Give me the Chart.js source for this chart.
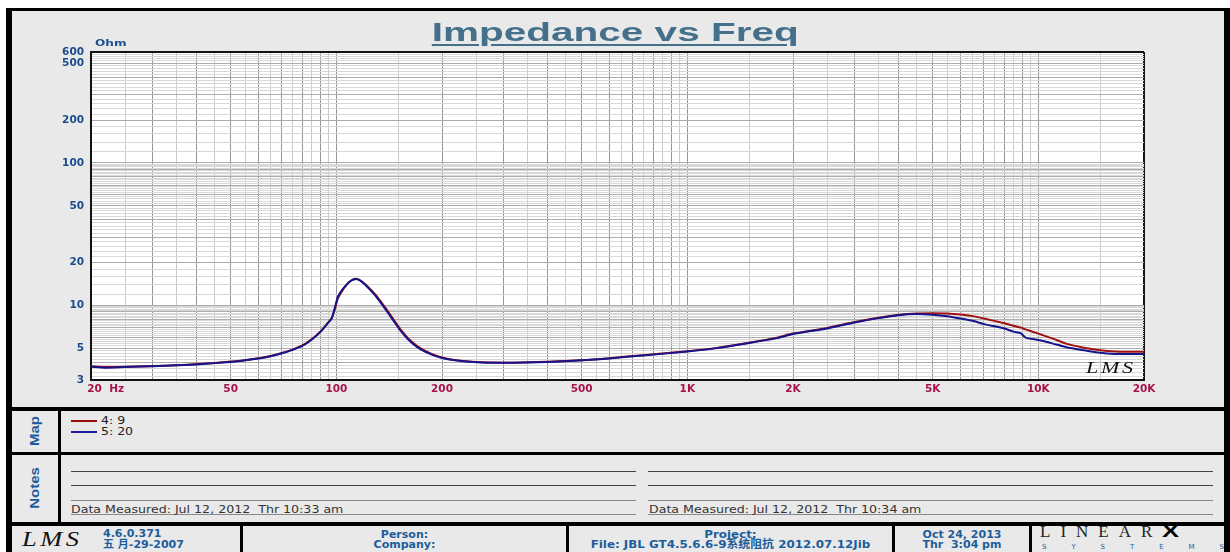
<!DOCTYPE html>
<html>
<head>
<meta charset="utf-8">
<title>Impedance vs Freq</title>
<script src="https://cdn.jsdelivr.net/npm/chart.js@4.4.0/dist/chart.umd.min.js"></script>
<style>
  body { margin: 0; width: 1230px; height: 552px; background: #fff; position: relative; overflow: hidden; font-family: "DejaVu Sans", sans-serif; }
  .abs { position: absolute; }
  .bar { position: absolute; background: #000; }
  #frame { position: absolute; left: 6px; top: 8px; width: 1212px; height: 544px; border-top: 3px solid #000; border-left: 6px solid #000; border-right: 6px solid #000; background: #e9e9e9; }
  #plotWrap { position: absolute; left: 12px; top: 11px; width: 1212px; height: 396px; }
  #title { position: absolute; left: 0; top: 18px; width: 1230px; text-align: center; line-height: 25px; }
  #title span { display: inline-block; font: bold 25px "Liberation Sans", Arial, sans-serif; color: #44708c; text-decoration: underline; text-decoration-thickness: 2px; text-underline-offset: 3px; transform: scaleX(1.62); }
  #ohm { left: 95px; top: 38px; font: bold 9px "DejaVu Sans", sans-serif; color: #1d4f8f; transform: scaleX(1.35); transform-origin: left center; }
  #sig { left: 1086px; top: 358px; font: italic 17px "Liberation Serif", serif; color: #111; letter-spacing: 2px; transform: scaleX(1.3); transform-origin: left center; }
  .side { width: 46px; text-align: center; color: #1d5d9b; font: bold 12px "Liberation Sans", Arial, sans-serif; }
  .side span { display: inline-block; transform: rotate(-90deg) scaleX(1.25); }
  .leg { font: 10px "DejaVu Sans", sans-serif; color: #222; line-height: 10px; transform: scaleX(1.25); transform-origin: left center; }
  .legline { position: absolute; width: 26px; height: 2px; }
  .nline { position: absolute; height: 1px; width: 565px; }
  .meas { font: 10px "DejaVu Sans", sans-serif; color: #333; line-height: 10px; white-space: nowrap; transform: scaleX(1.26); transform-origin: left center; }
  .foot { font: bold 11px "DejaVu Sans", "Noto Sans CJK SC", sans-serif; color: #1d5d9b; line-height: 10px; text-align: center; white-space: nowrap; }
  #sys { left: 1042px; top: 544px; width: 182px; display: flex; justify-content: space-between; font: 7px "DejaVu Sans", sans-serif; color: #1d5d9b; line-height: 7px; }
</style>
</head>
<body>
<div id="frame"></div>

<div id="plotWrap"><canvas id="impChart" width="1212" height="396"></canvas></div>
<div id="title"><span>Impedance vs Freq</span></div>
<div id="ohm" class="abs">Ohm</div>
<div id="sig" class="abs">LMS</div>

<!-- separators -->
<div class="bar" style="left:12px;top:407px;width:1212px;height:4px"></div>
<div class="bar" style="left:12px;top:452px;width:1212px;height:3px"></div>
<div class="bar" style="left:12px;top:522px;width:1212px;height:4px"></div>
<div class="bar" style="left:58px;top:411px;width:3px;height:111px"></div>
<div class="bar" style="left:240px;top:526px;width:3px;height:26px"></div>
<div class="bar" style="left:566px;top:526px;width:3px;height:26px"></div>
<div class="bar" style="left:892px;top:526px;width:3px;height:26px"></div>
<div class="bar" style="left:1029px;top:526px;width:3px;height:26px"></div>

<!-- map box -->
<div class="abs side" style="left:12px;top:424px"><span>Map</span></div>
<div class="legline" style="left:71px;top:420px;background:#9b0d0d"></div>
<div class="abs leg" style="left:101px;top:416px">4: 9</div>
<div class="legline" style="left:71px;top:431px;background:#1a1a96"></div>
<div class="abs leg" style="left:101px;top:427px">5: 20</div>

<!-- notes box -->
<div class="abs side" style="left:12px;top:481px"><span>Notes</span></div>
<div class="nline" style="left:71px;top:471px;background:#444"></div>
<div class="nline" style="left:71px;top:485px;background:#444"></div>
<div class="nline" style="left:71px;top:500px;background:#888"></div>
<div class="nline" style="left:71px;top:514px;background:#888"></div>
<div class="abs meas" style="left:71px;top:505px">Data Measured: Jul 12, 2012&nbsp; Thr 10:33 am</div>
<div class="nline" style="left:648px;top:471px;background:#444"></div>
<div class="nline" style="left:648px;top:485px;background:#444"></div>
<div class="nline" style="left:648px;top:500px;background:#888"></div>
<div class="nline" style="left:648px;top:514px;background:#888"></div>
<div class="abs meas" style="left:649px;top:505px">Data Measured: Jul 12, 2012&nbsp; Thr 10:34 am</div>

<!-- footer -->
<div class="abs" style="left:22px;top:526px;font:italic 22px 'Liberation Serif',serif;letter-spacing:3px;color:#111;transform:scaleX(1.2);transform-origin:left center">LMS</div>
<div class="abs foot" style="left:103px;top:529px;text-align:left">4.6.0.371</div>
<div class="abs foot" style="left:103px;top:540px;text-align:left">五 月-29-2007</div>
<div class="abs foot" style="left:243px;top:530px;width:323px">Person:<br>Company:</div>
<div class="abs foot" style="left:569px;top:530px;width:323px"><span style="display:inline-block;transform:scaleX(1.08)">Project:<br>File: JBL GT4.5.6.6-9系统阻抗 2012.07.12Jib</span></div>
<div class="abs foot" style="left:895px;top:530px;width:134px">Oct 24, 2013<br>Thr&nbsp; 3:04 pm</div>
<div class="abs" style="left:1040px;top:522px;font:17px 'Liberation Serif',serif;letter-spacing:10px;color:#222;line-height:17px;white-space:nowrap">LINEAR<span style="font:900 17px 'Liberation Sans',Arial,sans-serif;letter-spacing:0;color:#000;display:inline-block;transform:scaleX(1.5);transform-origin:left bottom">X</span></div>
<div id="sys" class="abs"><span>S</span><span>Y</span><span>S</span><span>T</span><span>E</span><span>M</span><span>S</span></div>

<script>
// measured impedance
const freqHz = [20, 22, 25, 30, 35, 40, 45, 50, 55, 60,
  65, 70, 75, 80, 85, 90, 95, 97, 99, 101,
  104, 107, 110, 113, 116, 120, 125, 130, 136, 143,
  152, 160, 170, 180, 190, 200, 210, 230, 260, 300,
  350, 400, 500, 600, 700, 800, 1000, 1200, 1500, 1800,
  2000, 2500, 3000, 3500, 4000, 4500, 5000, 5500, 6000, 6500,
  7000, 8000, 8500, 8900, 9200, 10000, 11000, 12000, 13500, 15000,
  16500, 18000, 20000];

// 4: 9 (red)
const imp4_9 = [3.74, 3.70, 3.71, 3.76, 3.81, 3.88, 3.95, 4.04, 4.13, 4.26,
  4.42, 4.64, 4.90, 5.24, 5.80, 6.55, 7.65, 8.15, 9.4, 11.2,
  12.7, 14.0, 14.9, 15.4, 15.2, 14.3, 13.0, 11.7, 10.1, 8.5,
  6.85, 5.9, 5.2, 4.78, 4.5, 4.32, 4.2, 4.08, 4.0, 3.97,
  3.99, 4.03, 4.13, 4.27, 4.42, 4.54, 4.78, 5.02, 5.48, 5.95,
  6.35, 6.95, 7.65, 8.2, 8.62, 8.8, 8.82, 8.8, 8.65, 8.42,
  8.1, 7.5, 7.2, 7.0, 6.8, 6.35, 5.85, 5.4, 5.05, 4.85,
  4.75, 4.73, 4.73];

// 5: 20 (blue)
const imp5_20 = [3.72, 3.66, 3.70, 3.75, 3.80, 3.86, 3.94, 4.02, 4.12, 4.24,
  4.40, 4.62, 4.88, 5.20, 5.75, 6.50, 7.60, 8.10, 9.6, 11.5,
  12.9, 14.0, 14.9, 15.3, 15.1, 14.2, 12.8, 11.5, 9.9, 8.3,
  6.7, 5.8, 5.1, 4.7, 4.45, 4.28, 4.18, 4.06, 3.98, 3.96,
  3.98, 4.02, 4.12, 4.25, 4.40, 4.52, 4.75, 5.0, 5.45, 5.9,
  6.3, 6.9, 7.6, 8.15, 8.55, 8.7, 8.6, 8.4, 8.1, 7.8,
  7.4, 6.9, 6.55, 6.4, 5.95, 5.72, 5.4, 5.1, 4.85, 4.66,
  4.57, 4.56, 4.56];

// axis labels
const xTickValues = [20, 50, 100, 200, 500, 1000, 2000, 5000, 10000, 20000];
const xTickLabels = ['20  Hz', '50', '100', '200', '500', '1K', '2K', '5K', '10K', '20K'];
const yTickValues = [3, 5, 10, 20, 50, 100, 200, 500, 600];

const X_MIN = 20, X_MAX = 20000, Y_MIN = 3, Y_MAX = 600;

// grid: every half step per decade on x, every 0.2 step per decade on y
const xGrid = [];
[10, 100, 1000, 10000].forEach(d => {
  for (let k = 10; k < 100; k += 5) {
    const v = k * d / 10;
    if (v >= X_MIN && v <= X_MAX) xGrid.push(v);
  }
});
const yGrid = [];
[1, 10, 100].forEach(d => {
  for (let k = 10; k < 100; k += 2) {
    const v = k * d / 10;
    if (v >= Y_MIN && v <= Y_MAX) yGrid.push(v);
  }
});

function near(a, b) { return Math.abs(a - b) < 1e-6 * b; }
function isWhole(v) {
  const d = Math.pow(10, Math.floor(Math.log10(v) + 1e-9));
  const m = v / d;
  return Math.abs(m - Math.round(m)) < 1e-6;
}

const plotBg = {
  id: 'plotBg',
  beforeDraw(chart) {
    const { ctx, chartArea: a } = chart;
    ctx.save();
    ctx.fillStyle = '#ffffff';
    ctx.fillRect(a.left, a.top, a.right - a.left, a.bottom - a.top);
    ctx.restore();
  }
};

const tickFont = { family: 'DejaVu Sans', size: 10.5, weight: 'bold' };

new Chart(document.getElementById('impChart'), {
  type: 'line',
  data: {
    datasets: [{
      label: '5: 20',
      data: freqHz.map((f, i) => ({ x: f, y: imp5_20[i] })),
      borderColor: '#14148c',
      borderWidth: 2,
      pointRadius: 0,
      tension: 0.2,
      order: 1
    }, {
      label: '4: 9',
      data: freqHz.map((f, i) => ({ x: f, y: imp4_9[i] })),
      borderColor: '#a01010',
      borderWidth: 2,
      pointRadius: 0,
      tension: 0.2,
      order: 2
    }]
  },
  options: {
    responsive: false,
    animation: false,
    devicePixelRatio: 1,
    layout: { padding: { left: 0, right: 80, top: 41, bottom: 9 } },
    plugins: { legend: { display: false }, tooltip: { enabled: false } },
    scales: {
      x: {
        type: 'logarithmic',
        min: X_MIN,
        max: X_MAX,
        afterBuildTicks: s => { s.ticks = xGrid.map(v => ({ value: v })); },
        afterFit: s => { s.height = 18; },
        border: { color: '#111', width: 2 },
        grid: {
          drawTicks: false,
          color: c => near(c.tick.value, X_MAX) ? '#111' : (isWhole(c.tick.value) ? '#959595' : '#cbcbcb'),
          lineWidth: c => near(c.tick.value, X_MAX) ? 2 : 1
        },
        ticks: {
          autoSkip: false,
          maxRotation: 0,
          minRotation: 0,
          padding: 3,
          color: '#a8124a',
          font: tickFont,
          callback: v => {
            const i = xTickValues.findIndex(t => near(v, t));
            if (i < 0) return '';
            // first label starts at the axis edge
            return i === 0 ? '        ' + xTickLabels[i] : xTickLabels[i];
          }
        }
      },
      y: {
        type: 'logarithmic',
        min: Y_MIN,
        max: Y_MAX,
        afterBuildTicks: s => { s.ticks = yGrid.map(v => ({ value: v })); },
        afterFit: s => { s.width = 79; },
        border: { color: '#111', width: 2 },
        grid: {
          drawTicks: false,
          color: c => near(c.tick.value, Y_MAX) ? '#111' : (isWhole(c.tick.value) ? '#adadad' : '#d8d8d8'),
          lineWidth: c => near(c.tick.value, Y_MAX) ? 2 : 1
        },
        ticks: {
          autoSkip: false,
          padding: 7,
          color: '#1a4b8c',
          font: tickFont,
          callback: v => yTickValues.some(t => near(v, t)) ? String(v) : ''
        }
      }
    }
  },
  plugins: [plotBg]
});
</script>
</body>
</html>
